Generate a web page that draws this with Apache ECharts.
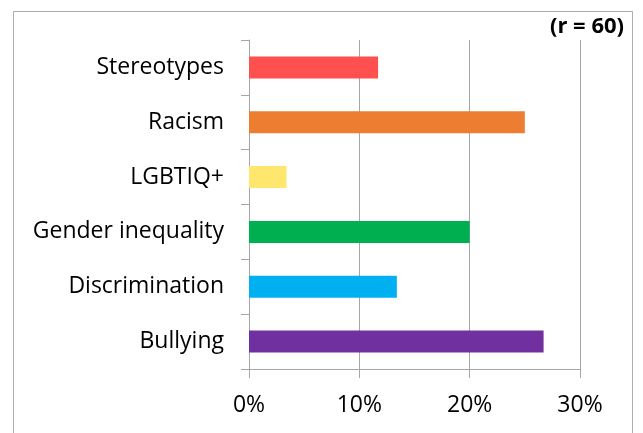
<!DOCTYPE html>
<html><head><meta charset="utf-8">
<script src="https://cdn.jsdelivr.net/npm/echarts@6/dist/echarts.min.js"></script>
<style>html,body{margin:0;padding:0;background:#fff}#c{width:643px;height:433px}</style>
</head><body><div id="c"></div>
<script>
const categories = ["Stereotypes", "Racism", "LGBTIQ+", "Gender inequality", "Discrimination", "Bullying"];
const values = [0.117, 0.25, 0.034, 0.20, 0.134, 0.267];
const colors = ["#FF5050", "#ED7D31", "#FFE66D", "#00B050", "#00B0F0", "#7030A0"];
const xTicks = [0, 0.1, 0.2, 0.3];
const note = "(r = 60)";

const chart = echarts.init(document.getElementById('c'), null, {renderer: 'canvas'});
const font = '"Open Sans", Lato, sans-serif';
chart.setOption({
  animation: false,
  graphic: [
    {type: 'rect', shape: {x: 13.5, y: 11.5, width: 619, height: 440}, style: {fill: 'none', stroke: '#ADADAD', lineWidth: 1}},
    {type: 'text', right: 19, top: 16, style: {text: note, font: 'bold 22px ' + font, fill: '#000'}}
  ],
  grid: {left: 249, top: 40, right: 63, bottom: 64, containLabel: false},
  xAxis: {
    type: 'value', min: xTicks[0], max: xTicks[xTicks.length - 1], interval: 0.1,
    axisLine: {show: true, lineStyle: {color: '#A6A6A6', width: 1}},
    axisTick: {show: true, length: 9, lineStyle: {color: '#A6A6A6'}},
    splitLine: {show: true, lineStyle: {color: '#A6A6A6', width: 1}},
    axisLabel: {formatter: v => Math.round(v * 100) + '%', color: '#000', fontSize: 23, fontFamily: font, margin: 25}
  },
  yAxis: {
    type: 'category', data: categories, inverse: true,
    axisLine: {show: true, lineStyle: {color: '#A6A6A6', width: 1}},
    axisTick: {show: true, length: 8, lineStyle: {color: '#A6A6A6'}},
    axisLabel: {color: '#000', fontSize: 23, fontFamily: font, margin: 25, padding: [4, 0, 0, 0]}
  },
  series: [{
    type: 'bar', barWidth: 22,
    data: values.map((v, i) => ({value: v, itemStyle: {color: colors[i]}}))
  }]
});
</script></body></html>
